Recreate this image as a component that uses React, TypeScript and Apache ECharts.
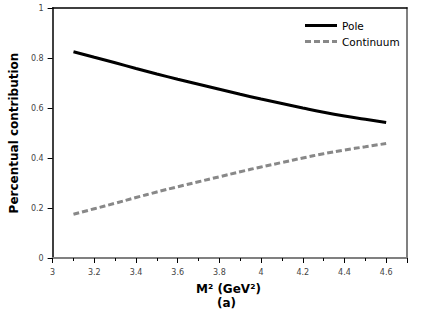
import React, { useEffect, useRef } from "react";
import * as echarts from "echarts";

const m2 = [3.1, 3.2, 3.3, 3.4, 3.5, 3.6, 3.7, 3.8, 3.9, 4.0, 4.1, 4.2, 4.3, 4.4, 4.5, 4.6];
const pole = [0.825, 0.803, 0.781, 0.758, 0.736, 0.715, 0.695, 0.675, 0.655, 0.636, 0.618, 0.6, 0.583, 0.568, 0.555, 0.542];
const continuum = [0.175, 0.197, 0.219, 0.242, 0.264, 0.285, 0.305, 0.325, 0.345, 0.364, 0.382, 0.4, 0.417, 0.432, 0.445, 0.458];
const seriesNames = ["Pole", "Continuum"];
const xTitle = "M² (GeV²)";
const subTitle = "(a)";
const yTitle = "Percentual contribution";

const FONT = "DejaVu Sans";

export default function App() {
  const ref = useRef<HTMLDivElement>(null);
  useEffect(() => {
    const chart = echarts.init(ref.current!, undefined, { renderer: "svg" });
    chart.setOption({
      animation: false,
      textStyle: { fontFamily: FONT },
      grid: { left: 44, right: 37, top: 8, bottom: 60 },
      legend: {
        left: 300,
        top: 15,
        orient: "vertical",
        itemWidth: 32,
        itemHeight: 10,
        itemGap: 5,
        textStyle: { fontFamily: FONT, fontSize: 10.5, color: "#000" },
        data: [
          { name: seriesNames[0], icon: "path://M0,0L32,0L32,3L0,3Z", itemStyle: { color: "#000" } },
          {
            name: seriesNames[1],
            icon: "path://M0,0L6,0L6,3L0,3Z M9,0L15,0L15,3L9,3Z M18,0L24,0L24,3L18,3Z M27,0L32,0L32,3L27,3Z",
            itemStyle: { color: "#888" },
          },
        ],
      },
      xAxis: [
        {
          type: "value",
          min: 3,
          max: 4.7,
          interval: 0.2,
          axisLine: { show: true, onZero: false, lineStyle: { color: "#808080", width: 2 } },
          axisTick: { show: true, length: 5, lineStyle: { color: "#000", width: 1 } },
          minorTick: { show: true, splitNumber: 2, length: 3, lineStyle: { color: "#000", width: 1 } },
          splitLine: { show: false },
          axisLabel: {
            fontFamily: FONT,
            fontSize: 8,
            color: "#444",
            margin: 10,
            showMaxLabel: false,
            formatter: (v: number) => (Math.abs(v - 4.7) < 1e-6 ? "" : String(Math.round(v * 10) / 10)),
          },
        },
        {
          type: "value",
          position: "top",
          min: 3,
          max: 4.7,
          axisLine: { show: true, onZero: false, lineStyle: { color: "#000", width: 1.5 } },
          axisTick: { show: false },
          axisLabel: { show: false },
          splitLine: { show: false },
        },
      ],
      yAxis: [
        {
          type: "value",
          min: 0,
          max: 1,
          interval: 0.2,
          axisLine: { show: true, onZero: false, lineStyle: { color: "#000", width: 1.5 } },
          axisTick: { show: true, length: 5, lineStyle: { color: "#000" } },
          splitLine: { show: false },
          axisLabel: {
            fontFamily: FONT,
            fontSize: 8,
            color: "#444",
            margin: 9,
            formatter: (v: number) => String(Math.round(v * 10) / 10),
          },
          name: yTitle,
          nameLocation: "middle",
          nameGap: 31,
          nameTextStyle: { fontFamily: FONT, fontSize: 12, fontWeight: "bold", color: "#000" },
        },
        {
          type: "value",
          position: "right",
          min: 0,
          max: 1,
          axisLine: { show: true, onZero: false, lineStyle: { color: "#808080", width: 2 } },
          axisTick: { show: false },
          axisLabel: { show: false },
          splitLine: { show: false },
        },
      ],
      graphic: [
        {
          type: "text",
          left: 196,
          top: 283,
          style: { text: xTitle, font: `bold 12px '${FONT}'`, fill: "#000" },
        },
        {
          type: "text",
          left: 217,
          top: 297,
          style: { text: subTitle, font: `bold 12px '${FONT}'`, fill: "#000" },
        },
      ],
      series: [
        {
          name: seriesNames[0],
          type: "line",
          data: m2.map((x, i) => [x, pole[i]]),
          smooth: true,
          showSymbol: false,
          lineStyle: { color: "#000", width: 3 },
          itemStyle: { color: "#000" },
        },
        {
          name: seriesNames[1],
          type: "line",
          data: m2.map((x, i) => [x, continuum[i]]),
          smooth: true,
          showSymbol: false,
          lineStyle: { color: "#888", width: 3, type: [6, 3] },
          itemStyle: { color: "#888" },
        },
      ],
    });
    return () => chart.dispose();
  }, []);
  return <div ref={ref} style={{ width: 444, height: 318, position: "absolute", left: 0, top: 0 }} />;
}
